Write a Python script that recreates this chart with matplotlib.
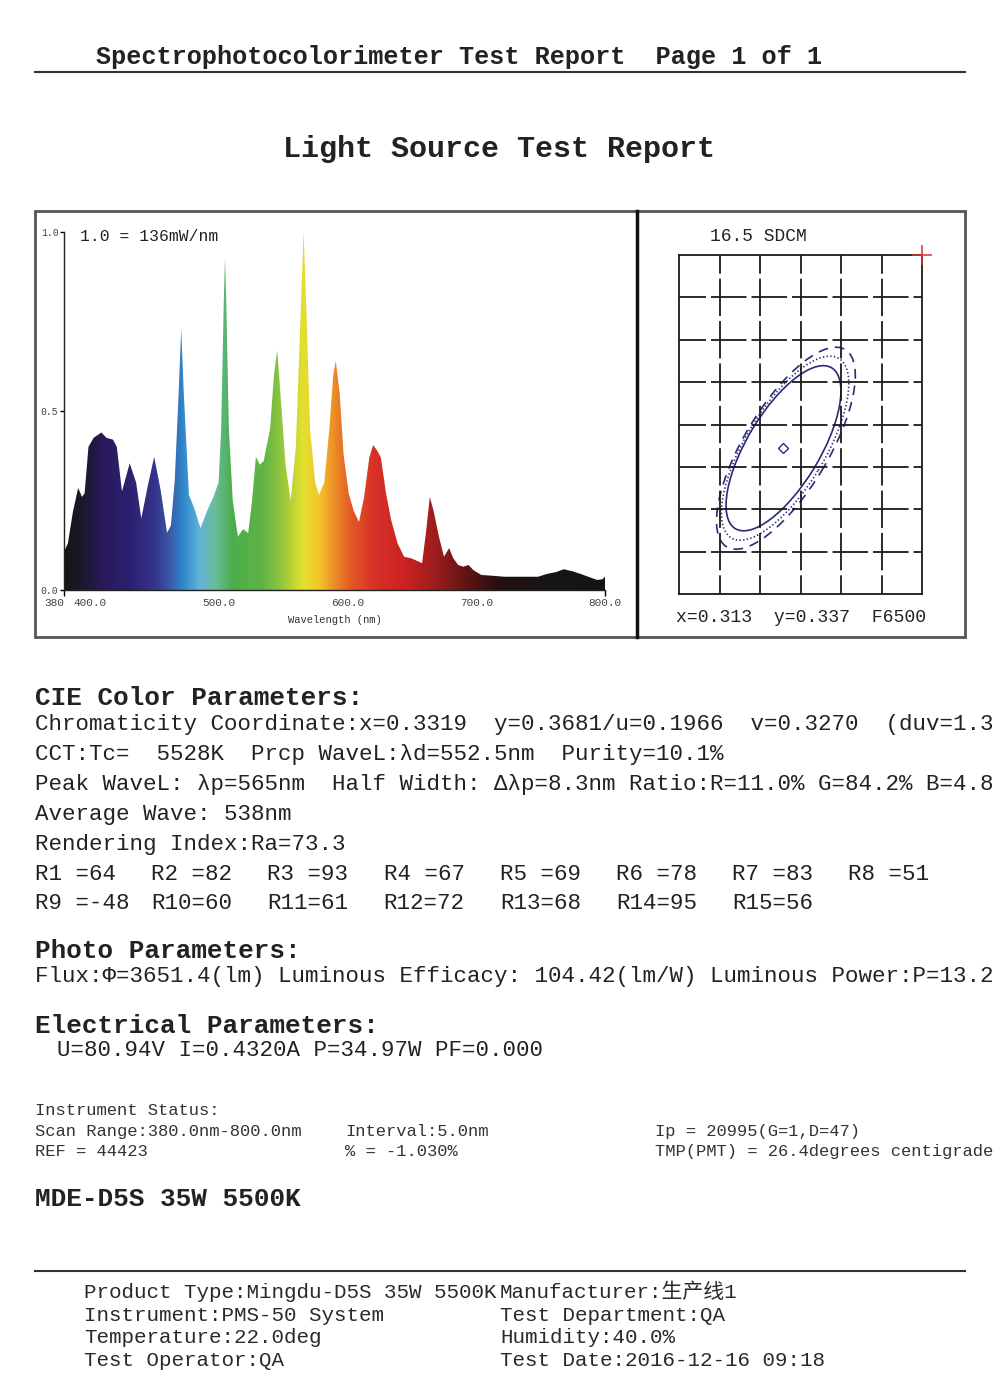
import numpy as np
import matplotlib
matplotlib.use("Agg")
import matplotlib.pyplot as plt
from matplotlib.colors import LinearSegmentedColormap, Normalize
from matplotlib.patches import Polygon, Ellipse, Rectangle
from matplotlib.lines import Line2D

plt.rcParams['font.family'] = ['Liberation Mono', 'Noto Sans CJK SC', 'DejaVu Sans']
plt.rcParams['lines.scale_dashes'] = False

# relative spectral power, 1.0 = 136 mW/nm
wavelength = [380, 383, 387, 391, 394, 396, 399, 403, 409, 413, 418, 421, 425, 431, 436,
              440, 445, 450, 455, 460, 463, 466, 469, 471, 473, 477, 481, 486, 491, 496,
              500, 502, 504, 505, 506, 508, 511, 515, 519, 523, 526, 529, 532, 535, 540,
              543, 545.5, 548, 552, 556, 560, 563, 566, 568, 571, 575, 578, 582, 586, 589,
              591, 594, 597, 601, 605, 609, 613, 617, 620, 623, 626, 630, 634, 639, 644,
              650, 658, 661, 664, 667, 671, 675, 679, 682, 686, 690, 694, 698, 704, 712,
              722, 735, 748, 755, 762, 768, 775, 781, 787, 794, 798, 800]
power = [0.107, 0.13, 0.22, 0.285, 0.26, 0.27, 0.40, 0.425, 0.44, 0.425, 0.42, 0.40, 0.275, 0.354, 0.30,
         0.20, 0.29, 0.372, 0.28, 0.16, 0.18, 0.307, 0.55, 0.73, 0.55, 0.265, 0.23, 0.173, 0.22, 0.26,
         0.30, 0.45, 0.80, 0.93, 0.80, 0.45, 0.25, 0.149, 0.17, 0.159, 0.25, 0.372, 0.35, 0.36, 0.45,
         0.60, 0.67, 0.55, 0.35, 0.25, 0.40, 0.70, 1.0, 0.80, 0.45, 0.30, 0.265, 0.30, 0.45, 0.60,
         0.64, 0.55, 0.38, 0.27, 0.22, 0.19, 0.26, 0.37, 0.405, 0.39, 0.37, 0.27, 0.195, 0.13, 0.093,
         0.088, 0.075, 0.16, 0.26, 0.22, 0.15, 0.093, 0.117, 0.09, 0.07, 0.065, 0.07, 0.055, 0.042, 0.04,
         0.037, 0.037, 0.037, 0.045, 0.05, 0.058, 0.052, 0.045, 0.037, 0.028, 0.03, 0.037]

x_ticks = [380, 400, 500, 600, 700, 800]
x_tick_labels = ["380", "400.0", "500.0", "600.0", "700.0", "800.0"]
y_ticks = [0.0, 0.5, 1.0]
y_tick_labels = ["0.0", "0.5", "1.0"]

# colour of the light along the wavelength axis
spec_nm = [380, 395, 410, 430, 450, 462, 472, 485, 497, 510, 535, 550, 565, 578, 590,
           603, 620, 645, 670, 695, 720, 760, 800]
spec_col = ['#161616', '#1c1830', '#2a1a5c', '#2c2070', '#34348a', '#3a5aa8', '#2f88cc',
            '#62b4d8', '#6cbc9c', '#4aae4c', '#62b446', '#98c83c', '#e4e030', '#f2c626',
            '#ec8c28', '#e25a24', '#d83228', '#cc2222', '#9a1c1c', '#5a1414', '#241010',
            '#161616', '#141414']

# SDCM grid (cell units), ellipses and points
grid_cols = 6
grid_rows = 8
ell_style = ['-', ':', (0, (7, 5))]
ell_cx = [2.58, 2.62, 2.64]
ell_cy = [3.44, 3.44, 3.44]
ell_a = [2.24, 2.50, 2.75]
ell_b = [0.89, 0.97, 1.03]
ell_angle = [57.5, 57.5, 57.5]
sample_pt = (2.56, 3.45)
target_pt = (6.0, 8.0)

sdcm_text = "16.5 SDCM"
xy_text = "x=0.313  y=0.337  F6500"

cie_lines = [
    "Chromaticity Coordinate:x=0.3319  y=0.3681/u=0.1966  v=0.3270  (duv=1.3",
    "CCT:Tc=  5528K  Prcp WaveL:λd=552.5nm  Purity=10.1%",
    "Peak WaveL: λp=565nm  Half Width: Δλp=8.3nm Ratio:R=11.0% G=84.2% B=4.8",
    "Average Wave: 538nm",
    "Rendering Index:Ra=73.3",
]
r_names = ["R1", "R2", "R3", "R4", "R5", "R6", "R7", "R8",
           "R9", "R10", "R11", "R12", "R13", "R14", "R15"]
r_values = [64, 82, 93, 67, 69, 78, 83, 51, -48, 60, 61, 72, 68, 95, 56]

photo_line = "Flux:Φ=3651.4(lm) Luminous Efficacy: 104.42(lm/W) Luminous Power:P=13.2"
elec_line = "U=80.94V I=0.4320A P=34.97W PF=0.000"

footer_left = ["Product Type:Mingdu-D5S 35W 5500K", "Instrument:PMS-50 System",
               "Temperature:22.0deg", "Test Operator:QA"]
footer_right = ["Manufacturer:生产线1", "Test Department:QA",
                "Humidity:40.0%", "Test Date:2016-12-16 09:18"]

W, H = 1000, 1388
fig = plt.figure(figsize=(W / 100, H / 100), dpi=100)
ink = '#222222'


def fx(x):
    return x / W


def fy(y):
    return 1 - y / H


def put(x, y, s, size, bold=False, color=ink):
    fig.text(fx(x), fy(y), s, fontsize=size, color=color, ha='left', va='baseline',
             fontweight='bold' if bold else 'normal')


def hline(y, x0, x1, lw=1.5, color='#333333'):
    fig.add_artist(Line2D([fx(x0), fx(x1)], [fy(y), fy(y)], lw=lw, color=color))


# page header
put(96, 64, "Spectrophotocolorimeter Test Report  Page 1 of 1", 18.2, bold=True)
hline(72, 35, 965)
put(283, 157, "Light Source Test Report", 21.6, bold=True)

# frames round the two charts
fig.add_artist(Rectangle((fx(35), fy(637)), fx(930), 426 / H, fill=False,
                         edgecolor='#555555', lw=2))
fig.add_artist(Line2D([fx(637), fx(637)], [fy(211), fy(637)], lw=2.5, color='#111111'))

# spectrum
ax = fig.add_axes([fx(64), fy(590), 541 / W, 358 / H])
cmap = LinearSegmentedColormap.from_list(
    'spec', [((n - 380) / 420, c) for n, c in zip(spec_nm, spec_col)])
grad = np.linspace(380, 800, 840).reshape(1, -1)
im = ax.imshow(grad, extent=[380, 800, 0, 1], aspect='auto', cmap=cmap,
               norm=Normalize(380, 800), origin='lower', interpolation='bilinear')
verts = [(wavelength[0], 0)] + list(zip(wavelength, power)) + [(wavelength[-1], 0)]
shape = Polygon(verts, closed=True, facecolor='none', edgecolor='none')
ax.add_patch(shape)
im.set_clip_path(shape)
ax.set_xlim(380, 800)
ax.set_ylim(0, 1.0)
for s in ['top', 'right']:
    ax.spines[s].set_visible(False)
for s in ['left', 'bottom']:
    ax.spines[s].set_linewidth(1.0)
    ax.spines[s].set_color('#222222')
ax.set_xticks(x_ticks)
ax.set_xticklabels(x_tick_labels, fontsize=8, color='#444444')
ax.set_yticks(y_ticks)
ax.set_yticklabels(y_tick_labels, fontsize=7, color='#444444')
ax.tick_params(axis='x', length=4, width=1, pad=2)
ax.tick_params(axis='y', length=3, width=1, pad=1)
for t in ax.xaxis.get_major_ticks()[1:-1]:
    t.tick1line.set_visible(False)
ax.xaxis.get_majorticklabels()[0].set_horizontalalignment('right')
ax.set_xlabel("Wavelength (nm)", fontsize=7.6, color='#333333', labelpad=5)
put(80, 241, "1.0 = 136mW/nm", 11.8)

# SDCM grid with tolerance ellipses
ax2 = fig.add_axes([fx(679), fy(594), 243 / W, 339 / H])
ax2.set_xlim(0, grid_cols)
ax2.set_ylim(0, grid_rows)
ax2.set_xticks([])
ax2.set_yticks([])
for s in ax2.spines.values():
    s.set_linewidth(1.3)
    s.set_color('#1a1a1a')
cw = 243 / grid_cols / (100 / 72)
ch = 339 / grid_rows / (100 / 72)
gap = 3.6
for i in range(1, grid_cols):
    ax2.plot([i, i], [0, grid_rows], color='#1a1a1a', lw=1.3,
             linestyle=(ch / 2 - gap / 2, (ch - gap, gap)))
for j in range(1, grid_rows):
    ax2.plot([0, grid_cols], [j, j], color='#1a1a1a', lw=1.3,
             linestyle=(6.1, (cw - gap, gap)))
for cx, cy, a, b, ang, ls in zip(ell_cx, ell_cy, ell_a, ell_b, ell_angle, ell_style):
    ax2.add_patch(Ellipse((cx, cy), 2 * a, 2 * b, angle=ang, fill=False,
                          edgecolor='#2a2a78', lw=1.2, linestyle=ls))
ax2.plot(*sample_pt, marker='D', ms=5, mfc='none', mec='#2a2a78', mew=1)
ax2.plot(*target_pt, marker='+', ms=15, color='#e03030', mew=1.1,
         clip_on=False, zorder=10)
put(710, 241, sdcm_text, 12.9)
put(676, 622, xy_text, 13.1)

# CIE colour parameters
put(35, 705, "CIE Color Parameters:", 18.7, bold=True)
for k, line in enumerate(cie_lines):
    put(35, 730 + 30 * k, line, 16.2)
for k, (nm, val) in enumerate(zip(r_names, r_values)):
    row, col = divmod(k, 8)
    put(35 + col * 116.2, 880 + 29 * row, f"{nm:<3}={val}", 16.2)

put(35, 958, "Photo Parameters:", 18.7, bold=True)
put(35, 982, photo_line, 16.2)

put(35, 1033, "Electrical Parameters:", 18.7, bold=True)
put(57, 1056, elec_line, 16.2)

# instrument status
ins = 12.3
put(35, 1115, "Instrument Status:", ins, color='#333333')
put(35, 1136, "Scan Range:380.0nm-800.0nm", ins, color='#333333')
put(345, 1136, "Interval:5.0nm", ins, color='#333333')
put(655, 1136, "Ip = 20995(G=1,D=47)", ins, color='#333333')
put(35, 1156, "REF = 44423", ins, color='#333333')
put(345, 1156, "% = -1.030%", ins, color='#333333')
put(655, 1156, "TMP(PMT) = 26.4degrees centigrade", ins, color='#333333')

put(35, 1206, "MDE-D5S 35W 5500K", 18.8, bold=True)

# footer
hline(1271, 35, 965)
for k, (l, r) in enumerate(zip(footer_left, footer_right)):
    put(84, 1298 + 22.7 * k, l, 15, color='#2a2a2a')
    put(500, 1298 + 22.7 * k, r, 15, color='#2a2a2a')

fig.savefig("out.png", dpi=100, facecolor='white')
